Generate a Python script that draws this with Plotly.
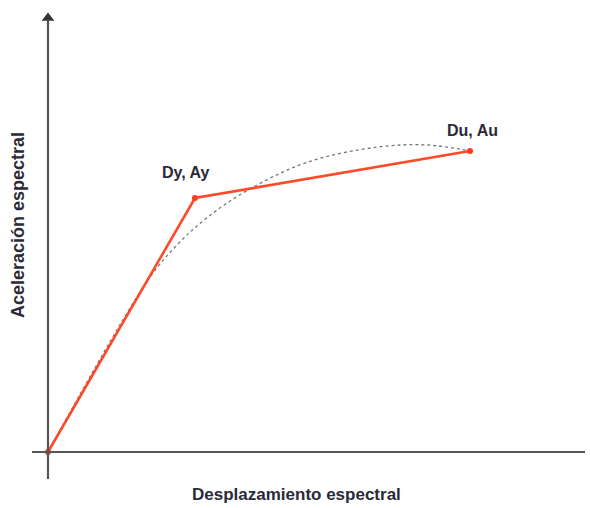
import plotly.graph_objects as go

# Bilinear idealisation (arbitrary units)
bilinear_labels = ["", "Dy, Ay", "Du, Au"]
bilinear_D = [0, 147, 422]
bilinear_A = [0, 254, 301]

# Capacity curve (dotted)
curve_D = [0, 100, 130, 160, 200, 260, 330, 380, 422]
curve_A = [0, 172, 208, 235, 262, 290, 305, 307, 301]

W, H = 590, 508
x0_px, y0_px = 48, 452
xr = [-x0_px, W - x0_px]
yr = [-(H - y0_px), y0_px]

fig = go.Figure()

axis_col = "#555555"
# axes
fig.add_shape(type="line", x0=-16, x1=537, y0=0, y1=0, line=dict(color=axis_col, width=2.2))
fig.add_shape(type="line", x0=0, x1=0, y0=-27, y1=432, line=dict(color=axis_col, width=2.2))
fig.add_trace(go.Scatter(x=[0], y=[434], mode="markers",
                         marker=dict(symbol="triangle-up", size=11, color="#333333"),
                         hoverinfo="skip", showlegend=False))

fig.add_trace(go.Scatter(x=curve_D, y=curve_A, mode="lines", line_shape="spline",
                         line=dict(color="#777777", width=1.3, dash="dot"),
                         showlegend=False))
fig.add_trace(go.Scatter(x=bilinear_D, y=bilinear_A, mode="lines+markers",
                         line=dict(color="#ff4a2a", width=2.6),
                         marker=dict(size=6, color="#ff3a1a"),
                         showlegend=False))

font_txt = dict(family="Liberation Sans, Arial", size=16, color="#2a2a38")
shifts = {"Dy, Ay": (-9, 26), "Du, Au": (2, 21)}
for lab, d, a in zip(bilinear_labels, bilinear_D, bilinear_A):
    if lab:
        xs, ys = shifts[lab]
        fig.add_annotation(x=d, y=a, text="<b>" + lab + "</b>", showarrow=False,
                           xshift=xs, yshift=ys, font=font_txt)

title_font = dict(family="Liberation Sans, Arial", size=17, color="#2a2a38")
fig.add_annotation(x=296 / W, y=(H - 494) / H, xref="paper", yref="paper",
                   xanchor="center", yanchor="middle",
                   text="<b>Desplazamiento espectral</b>", showarrow=False, font=title_font)
fig.add_annotation(x=18 / W, y=(H - 225) / H, xref="paper", yref="paper",
                   xanchor="center", yanchor="middle",
                   text="<b>Aceleración espectral</b>", showarrow=False, textangle=-90,
                   font=dict(family="Liberation Sans, Arial", size=18, color="#2a2a38"))

fig.update_layout(width=W, height=H, margin=dict(l=0, r=0, t=0, b=0),
                  paper_bgcolor="white", plot_bgcolor="white",
                  xaxis=dict(range=xr, visible=False, fixedrange=True),
                  yaxis=dict(range=yr, visible=False, fixedrange=True))

fig.write_html("out.html", config={"displayModeBar": False},
               post_script="document.body.style.margin='0';document.body.style.overflow='hidden';")
